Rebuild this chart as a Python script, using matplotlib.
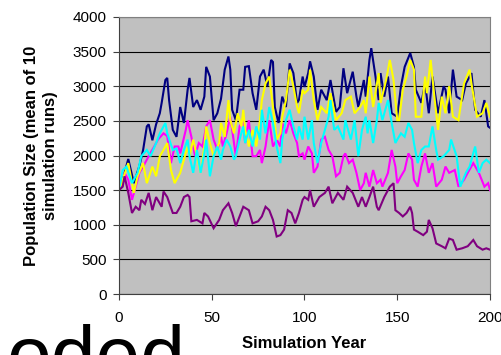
import matplotlib
matplotlib.use('Agg')
import matplotlib.pyplot as plt

plt.rcParams['font.family'] = ['Liberation Sans', 'DejaVu Sans']

# values (year, mean population size)
navy_years = [0, 2, 4, 5, 8, 11, 13, 15, 16, 18, 20, 22, 23, 25, 26, 27, 29, 31, 33, 35, 37, 38, 40, 42, 44, 46, 47, 49,
              51, 53, 55, 57, 59, 60, 61, 63, 65, 67, 68, 70, 72, 74, 76, 78, 80, 82, 83, 84, 86, 88, 90, 92, 94, 96,
              97, 99, 100, 102, 103, 105, 107, 109, 112, 114, 117, 119, 121, 123, 126, 128, 129, 132, 133, 135, 136,
              138, 140, 141, 143, 145, 147, 150, 152, 154, 157, 159, 160, 163, 165, 167, 169, 172, 175, 176, 178, 180,
              182, 185, 187, 190, 192, 195, 197, 199, 200]
navy_pop = [1500, 1650, 1850, 1950, 1600, 1850, 2080, 2420, 2450, 2220, 2450, 2610, 2760, 3090, 3120, 2800, 2370, 2270,
            2700, 2470, 2950, 3120, 2700, 2800, 2660, 2850, 3280, 3140, 2510, 2610, 2820, 3240, 3430, 3240, 2660, 2510,
            2950, 2950, 3280, 3290, 2900, 2660, 3140, 3240, 3000, 3380, 3350, 2700, 2470, 2850, 2700, 3330, 3190, 2760,
            2800, 3140, 2990, 3190, 3360, 3140, 2660, 2950, 2800, 3090, 2630, 2700, 3260, 2900, 3210, 2850, 2700, 3090,
            2850, 3380, 3550, 3190, 2800, 3190, 2850, 3140, 2610, 2560, 3000, 3280, 3480, 3280, 2950, 2760, 3040, 2610,
            3140, 2610, 3000, 2950, 2610, 3240, 2850, 2800, 3040, 3190, 2660, 2560, 2800, 2420, 2400]

yellow_years = [0, 2, 5, 8, 10, 13, 15, 18, 20, 22, 24, 26, 28, 30, 33, 35, 37, 38, 40, 42, 44, 46, 47, 49, 51, 54, 55,
                57, 59, 60, 62, 64, 66, 67, 68, 70, 72, 74, 76, 77, 79, 81, 83, 85, 87, 88, 90, 92, 94, 96, 97, 99,
                100, 102, 103, 105, 107, 109, 112, 114, 117, 120, 122, 125, 127, 130, 132, 133, 135, 137, 140, 141,
                144, 146, 148, 150, 151, 153, 155, 157, 159, 160, 163, 165, 166, 168, 170, 172, 174, 176, 178, 180,
                183, 186, 189, 190, 193, 196, 198, 200]
yellow_pop = [1500, 1650, 1890, 1460, 1700, 1890, 1600, 1840, 1700, 1990, 2080, 2180, 1790, 1600, 1750, 1940, 2130,
              1990, 2230, 1990, 1750, 2130, 2420, 2180, 1990, 2180, 2470, 2270, 2800, 2510, 2320, 2610, 2420, 2660,
              2370, 2130, 2370, 2130, 2510, 2800, 3040, 3140, 2700, 2230, 2320, 2560, 2800, 3240, 3000, 2700, 2610,
              2950, 2900, 2950, 3240, 2800, 2510, 2700, 2610, 2900, 2510, 2610, 2800, 2850, 2610, 2700, 2800, 2610,
              3140, 2700, 3190, 2760, 3090, 3380, 3090, 2510, 2510, 2950, 3140, 3380, 3240, 2560, 2560, 3140, 2900,
              3380, 2850, 2370, 2850, 2610, 3000, 2560, 2510, 3040, 3240, 3040, 2560, 2610, 2760, 2560]

cyan_years = [0, 2, 4, 7, 10, 12, 15, 17, 20, 22, 25, 26, 29, 31, 33, 35, 37, 38, 40, 42, 44, 46, 47, 49, 51, 53, 55,
              56, 58, 60, 62, 63, 65, 67, 68, 70, 72, 74, 76, 77, 79, 81, 83, 85, 87, 88, 90, 92, 94, 96, 97, 99, 100,
              102, 104, 105, 107, 109, 111, 113, 114, 116, 118, 121, 122, 125, 127, 129, 131, 133, 134, 135, 137, 139,
              140, 142, 145, 147, 149, 150, 152, 154, 156, 158, 159, 161, 163, 165, 167, 169, 171, 172, 175, 178, 179,
              182, 184, 187, 189, 192, 194, 196, 198, 200]
cyan_pop = [1500, 1790, 1840, 1600, 1750, 1990, 2080, 1990, 2180, 2320, 2470, 2320, 2080, 2100, 1890, 2080, 2230, 1990,
            1750, 2080, 1750, 2030, 2230, 1700, 1990, 2130, 1940, 2080, 2230, 2130, 1940, 1990, 2230, 2420, 2180, 2370,
            2130, 2420, 2230, 2660, 2320, 2700, 2470, 2130, 1890, 2230, 2510, 2660, 2420, 2230, 2420, 2230, 2560, 2230,
            2510, 2180, 1890, 2180, 2370, 2560, 2800, 2370, 2420, 2230, 2510, 2230, 2510, 1990, 2370, 2560, 2320, 2510,
            2180, 2510, 2760, 2510, 2800, 2470, 2180, 2230, 2320, 2270, 2470, 2370, 2180, 1890, 2080, 2130, 2130, 2420,
            2080, 1940, 1990, 2080, 2230, 1990, 1550, 1750, 1840, 2130, 1750, 1890, 1940, 1890]

magenta_years = [0, 2, 3, 5, 7, 9, 11, 13, 16, 19, 21, 24, 26, 28, 30, 32, 33, 36, 37, 39, 41, 43, 45, 47, 49, 51, 53,
                 55, 56, 58, 60, 62, 63, 65, 67, 68, 70, 72, 74, 76, 77, 79, 81, 83, 85, 87, 88, 90, 92, 94, 96, 97,
                 99, 100, 102, 104, 105, 107, 109, 111, 113, 115, 117, 119, 121, 122, 124, 126, 128, 130, 132, 133,
                 135, 137, 139, 141, 142, 145, 147, 149, 150, 152, 154, 156, 158, 159, 161, 163, 165, 167, 169, 171,
                 174, 176, 178, 181, 183, 186, 188, 191, 194, 197, 199, 200]
magenta_pop = [1500, 1600, 1750, 1650, 1360, 1550, 1750, 1840, 1990, 2130, 2230, 2320, 2280, 1890, 2130, 2130, 2030,
               2370, 2510, 2270, 1990, 2180, 2130, 2420, 2510, 2230, 2080, 2270, 2130, 2320, 2560, 2180, 1990, 2420,
               2510, 2180, 2510, 1990, 1990, 2080, 1890, 2130, 2510, 2130, 2230, 2130, 2470, 2320, 2510, 2320, 2180,
               1990, 2030, 1940, 2130, 2030, 1750, 1840, 2230, 2270, 2080, 1990, 1700, 1750, 1990, 2030, 1890, 1940,
               1750, 1500, 1600, 1750, 1550, 1790, 1600, 1650, 1550, 1750, 2080, 1840, 1600, 1700, 1790, 2030, 1940,
               1650, 1550, 1840, 2030, 1750, 1890, 1550, 1650, 1840, 1750, 1790, 1550, 1650, 1750, 1890, 1750, 1550,
               1600, 1500]

purple_years = [0, 2, 3, 5, 7, 9, 11, 12, 14, 16, 18, 20, 23, 24, 26, 29, 31, 33, 35, 37, 38, 39, 42, 45, 46, 48, 51,
                54, 56, 59, 61, 63, 65, 67, 70, 72, 75, 77, 79, 81, 83, 85, 87, 89, 91, 93, 95, 97, 99, 100, 102, 103,
                105, 108, 111, 113, 115, 118, 121, 123, 126, 129, 131, 133, 135, 137, 139, 140, 143, 146, 148, 149, 151,
                153, 155, 157, 158, 159, 161, 164, 166, 167, 169, 171, 174, 176, 178, 180, 182, 185, 188, 191, 193, 196,
                198, 200]
purple_pop = [1500, 1550, 1700, 1460, 1170, 1260, 1210, 1360, 1300, 1460, 1210, 1400, 1260, 1480, 1400, 1170, 1170,
              1260, 1400, 1430, 1400, 1050, 1070, 1020, 1170, 1120, 950, 1070, 1210, 1310, 1170, 980, 1120, 1260, 1210,
              1020, 1050, 1120, 1260, 1210, 1070, 830, 850, 930, 1210, 1170, 1020, 1170, 1360, 1400, 1360, 1500, 1260,
              1400, 1460, 1550, 1310, 1460, 1360, 1550, 1460, 1260, 1400, 1260, 1400, 1550, 1260, 1210, 1400, 1550,
              1600, 1210, 1170, 1120, 1170, 1260, 1170, 930, 900, 850, 900, 1070, 950, 730, 690, 660, 800, 780, 640,
              660, 690, 780, 690, 640, 660, 640]

series = [
    (navy_years, navy_pop, '#000080'),
    (magenta_years, magenta_pop, '#FF00FF'),
    (yellow_years, yellow_pop, '#FFFF00'),
    (cyan_years, cyan_pop, '#00FFFF'),
    (purple_years, purple_pop, '#800080'),
]

fig = plt.figure(figsize=(5.02, 3.55), dpi=100)
ax = fig.add_axes([119 / 502, 1 - 294 / 355, 371 / 502, 277 / 355])
ax.set_facecolor('#C0C0C0')

for yrs, pop, col in series:
    ax.plot(yrs, pop, color=col, lw=1.5, solid_joinstyle='miter')

ax.set_xlim(0, 200)
ax.set_ylim(0, 4000)
ax.set_xticks(range(0, 201, 50))
ax.set_yticks(range(0, 4001, 500))
ax.grid(axis='y', color='black', lw=0.8)
ax.set_axisbelow(True)

for side in ['top', 'right']:
    ax.spines[side].set_color('#808080')
for side in ['left', 'bottom']:
    ax.spines[side].set_color('#404040')

ax.tick_params(axis='both', labelsize=11, length=4, color='#404040')
ax.tick_params(axis='y', pad=5)
ax.tick_params(axis='x', pad=8)

ax.set_ylabel('Population Size (mean of 10\nsimulation runs)', fontsize=12, fontweight='bold',
              linespacing=1.35)
ax.yaxis.set_label_coords(-0.165, 0.5)
ax.set_xlabel('Simulation Year', fontsize=12, fontweight='bold')
ax.xaxis.set_label_coords(0.5, -0.15)

fig.text(186 / 502, 1 - 383 / 355, 'oded', fontsize=58, ha='right', va='baseline')

fig.savefig('out.png', dpi=100)
